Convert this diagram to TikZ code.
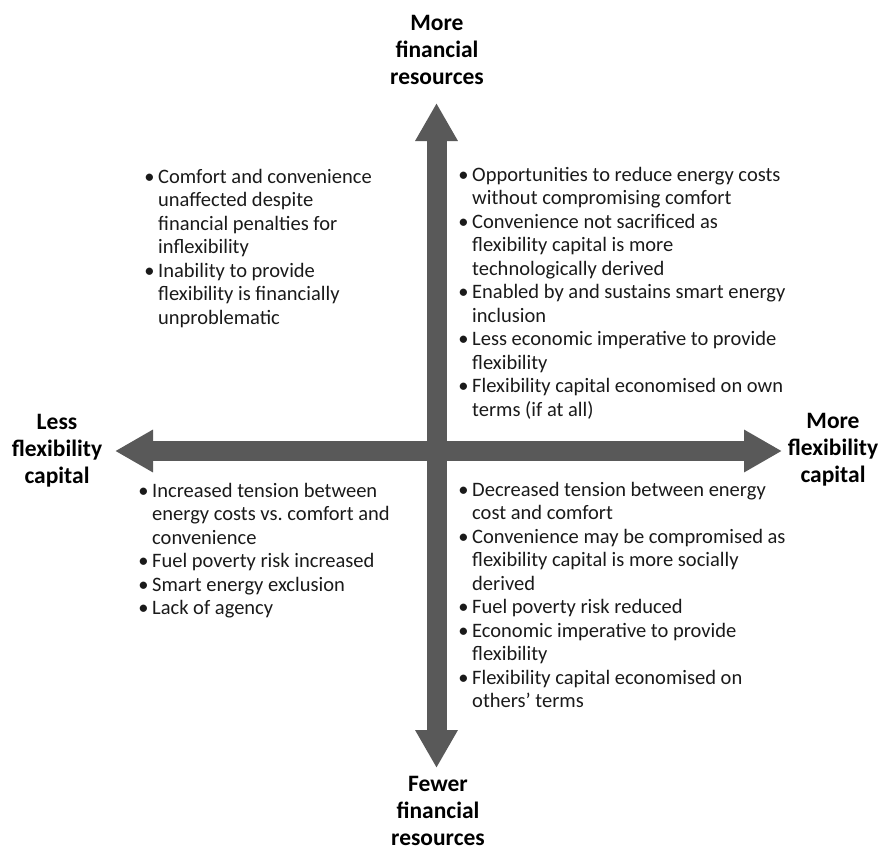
\documentclass[tikz,border=0pt]{standalone}
\usepackage{fontspec}
\setmainfont{Carlito}
\usetikzlibrary{arrows.meta}
\definecolor{axisgrey}{HTML}{595959}
\definecolor{txt}{HTML}{1A1A1A}
\begin{document}
\begin{tikzpicture}[x=1pt,y=-1pt,
  axis/.style={line width=20pt, draw=axisgrey,
    {Triangle[width=40pt,length=38pt,fill=axisgrey]}-{Triangle[width=40pt,length=38pt,fill=axisgrey]}},
  lab/.style={font=\bfseries\fontsize{23.5}{27}\selectfont, align=center, inner sep=0pt, anchor=base, text=black},
  blk/.style={font=\fontsize{20.5}{23.5}\selectfont, align=left, inner sep=0pt, anchor=base west, text=txt}]
\newcommand{\bul}{\llap{\textbullet\hspace{3.5pt}}}
\useasboundingbox (0,0) rectangle (884,849);
\coordinate (T) at (436.5,103);
\coordinate (B) at (436.5,768);
\coordinate (L) at (115,451);
\coordinate (R) at (782,451);
\draw[axis] (B) -- (T);
\draw[axis] (L) -- (R);
% base anchor = baseline of the last line
\node[lab] (toplab) at (437,84) {More\\financial\\resources};
\node[lab] (botlab) at (438,845) {Fewer\\financial\\resources};
\node[lab] (leftlab) at (57,483) {Less\\flexibility\\capital};
\node[lab] (rightlab) at (833,482) {More\\flexibility\\capital};
\node[blk] (tl) at (158,324) {\bul Comfort and convenience\\unaffected despite\\financial penalties for\\inflexibility\\\bul Inability to provide\\flexibility is financially\\unproblematic};
\node[blk] (tr) at (472,416) {\bul Opportunities to reduce energy costs\\without compromising comfort\\\bul Convenience not sacrificed as\\flexibility capital is more\\technologically derived\\\bul Enabled by and sustains smart energy\\inclusion\\\bul Less economic imperative to provide\\flexibility\\\bul Flexibility capital economised on own\\terms (if at all)};
\node[blk] (bl) at (152,614.5) {\bul Increased tension between\\energy costs vs.\ comfort and\\convenience\\\bul Fuel poverty risk increased\\\bul Smart energy exclusion\\\bul Lack of agency};
\node[blk] (br) at (472,707.5) {\bul Decreased tension between energy\\cost and comfort\\\bul Convenience may be compromised as\\flexibility capital is more socially\\derived\\\bul Fuel poverty risk reduced\\\bul Economic imperative to provide\\flexibility\\\bul Flexibility capital economised on\\others’ terms};
\end{tikzpicture}
\end{document}
